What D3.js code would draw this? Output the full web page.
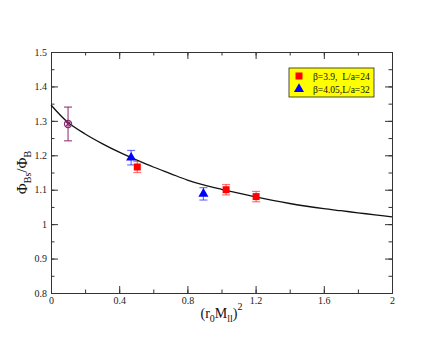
<!DOCTYPE html>
<html>
<head>
<meta charset="utf-8">
<script src="https://cdn.jsdelivr.net/npm/d3@7"></script>
<style>
  body { margin: 0; background: #fff; }
  svg { display: block; }
  text { font-family: "Liberation Serif", "DejaVu Serif", serif; }
</style>
</head>
<body>
<div id="chart"></div>
<script>
// fit curve
const curveX = [0, 0.1, 0.2, 0.3, 0.4, 0.5, 0.6, 0.7, 0.8, 0.9, 1.0,
                1.1, 1.2, 1.3, 1.4, 1.5, 1.6, 1.7, 1.8, 1.9, 2.0];
const curveY = [1.346, 1.295, 1.262, 1.234, 1.209, 1.187, 1.166, 1.147, 1.128, 1.113, 1.101,
                1.090, 1.079, 1.069, 1.060, 1.052, 1.045, 1.039, 1.033, 1.027, 1.021];

// beta=3.9, L/a=24
const redX = [0.506, 1.027, 1.203];
const redY = [1.166, 1.100, 1.080];
const redErr = [0.016, 0.015, 0.015];

// beta=4.05, L/a=32
const blueX = [0.470, 0.894];
const blueY = [1.193, 1.088];
const blueErr = [0.021, 0.018];

// extrapolated point
const extX = [0.10];
const extY = [1.291];
const extErr = [0.049];

const xTicks = [0, 0.4, 0.8, 1.2, 1.6, 2];
const yTicks = [0.8, 0.9, 1, 1.1, 1.2, 1.3, 1.4, 1.5];
const legendLabels = ["\u03b2=3.9,  L/a=24", "\u03b2=4.05,L/a=32"];

const width = 441, height = 341;
const margin = {top: 52, right: 49, bottom: 48, left: 51};
const w = width - margin.left - margin.right;
const h = height - margin.top - margin.bottom;

const svg = d3.select("#chart").append("svg")
	.attr("width", width)
	.attr("height", height);

const g = svg.append("g")
	.attr("transform", "translate(" + margin.left + "," + margin.top + ")");

const x = d3.scaleLinear().domain([0, 2]).range([0, w]);
const y = d3.scaleLinear().domain([0.8, 1.5]).range([h, 0]);

const fmt = d => d === 0 ? "0" : (d === 1 || d === 2) ? String(d) : d3.format(".1f")(d);

// axes: inward ticks on all four sides
function styleAxis(sel) {
	sel.select(".domain").attr("stroke", "#333").attr("stroke-width", 1);
	sel.selectAll(".tick line").attr("stroke", "#333");
	sel.selectAll(".tick text").attr("font-size", "10px").attr("fill", "#222")
		.style("font-family", "'Liberation Serif', serif");
}

const minorX = d3.range(0, 2.01, 0.2);
const minorY = d3.range(0.8, 1.501, 0.05);

g.append("g").attr("transform", "translate(0," + h + ")")
	.call(d3.axisBottom(x).tickValues(minorX).tickSizeInner(-3.5).tickSizeOuter(0).tickFormat(""))
	.call(styleAxis);
g.append("g").attr("transform", "translate(0," + h + ")")
	.call(d3.axisBottom(x).tickValues(xTicks).tickSizeInner(-7).tickSizeOuter(0).tickPadding(4).tickFormat(fmt))
	.call(styleAxis);
g.append("g")
	.call(d3.axisTop(x).tickValues(minorX).tickSizeInner(-3.5).tickSizeOuter(0).tickFormat(""))
	.call(styleAxis);
g.append("g")
	.call(d3.axisTop(x).tickValues(xTicks).tickSizeInner(-7).tickSizeOuter(0).tickFormat(""))
	.call(styleAxis);

g.append("g")
	.call(d3.axisLeft(y).tickValues(minorY).tickSizeInner(-3.5).tickSizeOuter(0).tickFormat(""))
	.call(styleAxis);
g.append("g")
	.call(d3.axisLeft(y).tickValues(yTicks).tickSizeInner(-7).tickSizeOuter(0).tickPadding(4).tickFormat(fmt))
	.call(styleAxis);
g.append("g").attr("transform", "translate(" + w + ",0)")
	.call(d3.axisRight(y).tickValues(minorY).tickSizeInner(-3.5).tickSizeOuter(0).tickFormat(""))
	.call(styleAxis);
g.append("g").attr("transform", "translate(" + w + ",0)")
	.call(d3.axisRight(y).tickValues(yTicks).tickSizeInner(-7).tickSizeOuter(0).tickFormat(""))
	.call(styleAxis);

// fit curve
const line = d3.line()
	.x((d, i) => x(curveX[i]))
	.y(d => y(d))
	.curve(d3.curveCatmullRom);

g.append("path")
	.datum(curveY)
	.attr("fill", "none")
	.attr("stroke", "#111")
	.attr("stroke-width", 1.3)
	.attr("d", line);

// error bars
function errorBars(xs, ys, es, color, opacity) {
	const eb = g.append("g")
		.attr("stroke", color)
		.attr("stroke-opacity", opacity)
		.attr("stroke-width", 1.2);
	xs.forEach((xv, i) => {
		const cx = x(xv), top = y(ys[i] + es[i]), bot = y(ys[i] - es[i]);
		eb.append("line").attr("x1", cx).attr("x2", cx).attr("y1", top).attr("y2", bot);
		eb.append("line").attr("x1", cx - 4).attr("x2", cx + 4).attr("y1", top).attr("y2", top);
		eb.append("line").attr("x1", cx - 4).attr("x2", cx + 4).attr("y1", bot).attr("y2", bot);
	});
}

errorBars(extX, extY, extErr, "#8b2870", 0.85);
errorBars(redX, redY, redErr, "#ff0000", 0.55);
errorBars(blueX, blueY, blueErr, "#0000ff", 0.55);

// extrapolated point: circle with cross
extX.forEach((xv, i) => {
	const cx = x(xv), cy = y(extY[i]);
	const p = g.append("g").attr("stroke", "#8b2870").attr("stroke-width", 1.2).attr("fill", "none");
	p.append("circle").attr("cx", cx).attr("cy", cy).attr("r", 3.6);
	p.append("line").attr("x1", cx - 2.5).attr("x2", cx + 2.5).attr("y1", cy - 2.5).attr("y2", cy + 2.5);
	p.append("line").attr("x1", cx - 2.5).attr("x2", cx + 2.5).attr("y1", cy + 2.5).attr("y2", cy - 2.5);
});

const sq = d3.symbol().type(d3.symbolSquare).size(49);
const tri = d3.symbol().type(d3.symbolTriangle).size(44);

g.selectAll(".red").data(redY).enter().append("path")
	.attr("d", sq)
	.attr("fill", "#ff0000")
	.attr("transform", (d, i) => "translate(" + x(redX[i]) + "," + y(d) + ")");

g.selectAll(".blue").data(blueY).enter().append("path")
	.attr("d", tri)
	.attr("fill", "#0000ff")
	.attr("transform", (d, i) => "translate(" + x(blueX[i]) + "," + y(d) + ")");

// legend
const leg = svg.append("g").attr("transform", "translate(289,68)");
leg.append("rect")
	.attr("width", 85).attr("height", 29)
	.attr("fill", "#ffff00")
	.attr("stroke", "#222").attr("stroke-width", 0.8);
leg.append("path").attr("d", sq).attr("fill", "#ff0000").attr("transform", "translate(10,8)");
leg.append("path").attr("d", tri).attr("fill", "#0000ff").attr("transform", "translate(10,21)");
legendLabels.forEach((t, i) => {
	leg.append("text")
		.attr("x", 24).attr("y", 11.5 + i * 13)
		.attr("font-size", "9.5px")
		.style("white-space", "pre")
		.attr("fill", "#111")
		.text(t);
});

// axis titles
const xt = svg.append("text")
	.attr("x", margin.left + w / 2)
	.attr("y", 318)
	.attr("text-anchor", "middle")
	.attr("font-size", "14px")
	.attr("fill", "#111");
xt.append("tspan").text("(r");
xt.append("tspan").attr("font-size", "10px").attr("dy", 4).text("0");
xt.append("tspan").attr("dy", -4).text("M");
xt.append("tspan").attr("font-size", "10px").attr("dy", 4).text("ll");
xt.append("tspan").attr("dy", -4).text(")");
xt.append("tspan").attr("font-size", "10px").attr("dy", -8).text("2");

const yt = svg.append("text")
	.attr("transform", "translate(27," + (margin.top + h / 2) + ") rotate(-90)")
	.attr("text-anchor", "middle")
	.attr("font-size", "15px")
	.attr("fill", "#111");
yt.append("tspan").text("\u03a6");
yt.append("tspan").attr("font-size", "10px").attr("dy", 4).text("Bs");
yt.append("tspan").attr("dy", -4).text("/\u03a6");
yt.append("tspan").attr("font-size", "10px").attr("dy", 4).text("B");
</script>
</body>
</html>
